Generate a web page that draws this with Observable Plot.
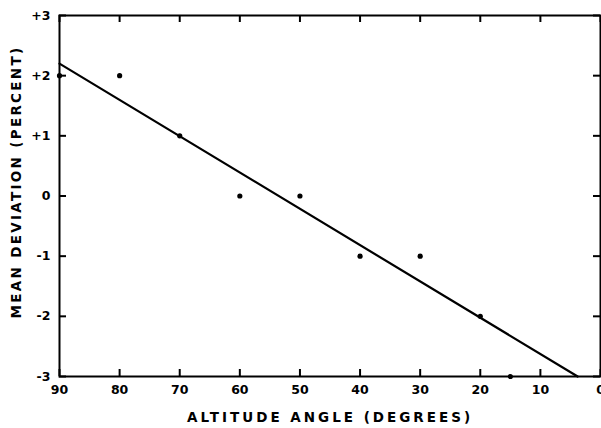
<!DOCTYPE html>
<html>
<head>
<meta charset="utf-8">
<script src="https://cdn.jsdelivr.net/npm/d3@7"></script>
<script src="https://cdn.jsdelivr.net/npm/@observablehq/plot@0.6"></script>
<style>
  html, body { margin: 0; padding: 0; background: #fff; }
  svg { font-family: "DejaVu Sans", sans-serif; }
</style>
</head>
<body>
<div id="chart"></div>
<script>
// Observations: altitude angle (degrees) and mean deviation (percent)
const altitude = [90, 80, 70, 60, 50, 40, 30, 20, 15];
const deviation = [2, 2, 1, 0, 0, -1, -1, -2, -3];

// Fitted straight line end points
const lineAltitude = [90, 3.8];
const lineDeviation = [2.2, -3];

// Ticks
const xTicks = [90, 80, 70, 60, 50, 40, 30, 20, 10, 0];
const yTicks = [-3, -2, -1, 0, 1, 2, 3];
const yTickLabels = ["-3", "-2", "-1", "0", "+1", "+2", "+3"];

const xLabel = "ALTITUDE ANGLE (DEGREES)";
const yLabel = "MEAN DEVIATION (PERCENT)";

const points = altitude.map((a, i) => ({a, d: deviation[i]}));
const fit = lineAltitude.map((a, i) => ({a, d: lineDeviation[i]}));

const W = 601, H = 428, mL = 59, mR = 1, mT = 15, mB = 52, tick = 7;
const innerW = W - mL - mR, innerH = H - mT - mB;

const chart = Plot.plot({
  width: W,
  height: H,
  marginLeft: mL,
  marginRight: mR,
  marginTop: mT,
  marginBottom: mB,
  style: {fontFamily: "DejaVu Sans, sans-serif", fontWeight: "bold", color: "#000", background: "#fff"},
  x: {domain: [90, 0]},
  y: {domain: [-3, 3]},
  marks: [
    // inward tick marks on all four sides
    Plot.ruleX(xTicks, {x: d => d, insetTop: innerH - tick, stroke: "#000", strokeWidth: 2}),
    Plot.ruleX(xTicks, {x: d => d, insetBottom: innerH - tick, stroke: "#000", strokeWidth: 2}),
    Plot.ruleY(yTicks, {y: d => d, insetRight: innerW - tick, stroke: "#000", strokeWidth: 2}),
    Plot.ruleY(yTicks, {y: d => d, insetLeft: innerW - tick, stroke: "#000", strokeWidth: 2}),
    Plot.axisX(xTicks, {anchor: "bottom", tickSize: 0, tickPadding: 9, fontSize: 12.5, label: xLabel, labelAnchor: "center", labelOffset: 45, labelArrow: "none"}),
    Plot.axisY(yTicks, {anchor: "left", tickSize: 0, tickPadding: 9, fontSize: 12.5,
      tickFormat: d => yTickLabels[yTicks.indexOf(d)], label: yLabel, labelAnchor: "center", labelOffset: 48, labelArrow: "none"}),
    Plot.frame({stroke: "#000", strokeWidth: 2}),
    Plot.line(fit, {x: "a", y: "d", stroke: "#000", strokeWidth: 2.2}),
    Plot.dot(points, {x: "a", y: "d", r: 2.6, fill: "#000", stroke: "none"})
  ]
});
document.getElementById("chart").appendChild(chart);

d3.select(chart).select('g[aria-label="x-axis label"] text').text(xLabel);
d3.select(chart).select('g[aria-label="y-axis label"] text').text(yLabel).attr("dx", 14);
d3.select(chart).selectAll('g[aria-label="x-axis label"] text, g[aria-label="y-axis label"] text')
  .style("font-size", "13.5px")
  .style("letter-spacing", "3px")
  .style("font-weight", "bold");
d3.select(chart).select('g[aria-label="y-axis label"] text').style("letter-spacing", "2.3px");
</script>
</body>
</html>
